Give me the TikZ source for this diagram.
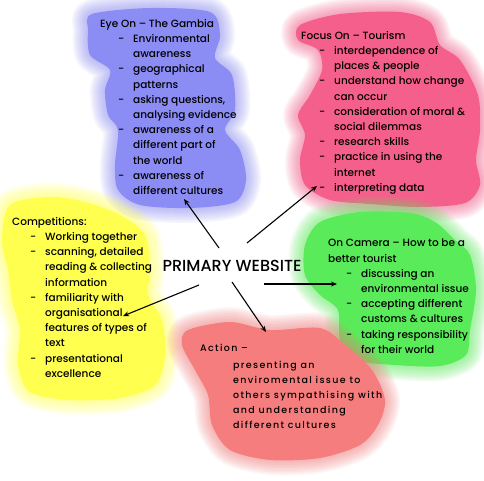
\documentclass[tikz,border=0pt]{standalone}
\usepackage{fontspec}
\setmainfont{Poppins}[UprightFont=* Medium, BoldFont=* SemiBold]
\usepackage{xcolor}
\usetikzlibrary{arrows.meta}

\definecolor{blobblue}{RGB}{140,140,245}
\definecolor{blobpink}{RGB}{245,95,140}
\definecolor{blobgreen}{RGB}{90,235,90}
\definecolor{blobyellow}{RGB}{255,255,80}
\definecolor{blobred}{RGB}{245,125,125}

% soft coloured patch behind each block
\newcommand\blob[2]{%
  \foreach \w in {30,27,...,2}
    \draw[#1, line width=\w pt, opacity=0.07, line join=round] plot[smooth cycle] coordinates {#2};
  \fill[#1] plot[smooth cycle] coordinates {#2};}
\newcommand\dashitem[1]{\hspace*{18pt}\makebox[15pt][l]{-}#1}
\newcommand\cont[1]{\hspace*{33pt}#1}

\begin{document}
\begin{tikzpicture}[x=1pt, y=-1pt,
  blocktext/.style={anchor=north west, inner sep=0pt, align=left, font=\fontsize{10.5}{15.2}\selectfont},
  arr/.style={-{Stealth[length=6pt, width=5pt]}, line width=1.1pt}
]
  \useasboundingbox (0,0) rectangle (484,480);
  \fill[white] (0,0) rectangle (484,480);

  % Patches
  \blob{blobblue}{(92,14) (150,8) (210,12) (220,35) (215,58) (232,75) (235,110) (225,130) (240,150) (246,180) (235,202) (190,208) (140,205) (118,190) (115,165) (118,130) (108,115) (105,90) (110,70) (90,55) (88,30)}
  \blob{blobpink}{(300,25) (340,14) (400,12) (430,22) (440,45) (460,60) (478,95) (480,130) (476,160) (480,185) (465,203) (420,207) (370,204) (330,200) (305,185) (300,160) (305,135) (298,115) (310,95) (322,70) (318,50) (298,40)}
  \blob{blobgreen}{(320,222) (360,212) (410,213) (435,222) (455,240) (470,255) (476,290) (470,330) (466,355) (440,366) (395,365) (355,360) (340,340) (338,310) (320,295) (305,275) (305,245)}
  \blob{blobyellow}{(10,205) (50,197) (85,202) (120,215) (145,235) (150,270) (148,295) (162,320) (165,355) (155,385) (120,398) (70,400) (30,392) (18,365) (20,330) (12,300) (8,270) (2,240)}
  \blob{blobred}{(188,330) (230,322) (270,330) (320,328) (345,345) (372,370) (385,400) (378,425) (360,445) (320,458) (270,460) (230,450) (212,425) (208,395) (195,370) (182,345)}

  % Centre
  \node[font=\fontsize{16}{19}\selectfont, inner sep=0pt] (hub) at (232,266) {PRIMARY WEBSITE};

  % Blocks
  \node[blocktext] (eyeon) at (100,19) {Eye On -- The Gambia\\
    \dashitem{Environmental}\\ \cont{awareness}\\
    \dashitem{geographical}\\ \cont{patterns}\\
    \dashitem{asking questions,}\\ \cont{analysing evidence}\\
    \dashitem{awareness of a}\\ \cont{different part of}\\ \cont{the world}\\
    \dashitem{awareness of}\\ \cont{different cultures}};
  \node[blocktext] (focus) at (301,31) {Focus On -- Tourism\\
    \dashitem{interdependence of}\\ \cont{places \& people}\\
    \dashitem{understand how change}\\ \cont{can occur}\\
    \dashitem{consideration of moral \&}\\ \cont{social dilemmas}\\
    \dashitem{research skills}\\
    \dashitem{practice in using the}\\ \cont{internet}\\
    \dashitem{interpreting data}};
  \node[blocktext] (comp) at (12,217) {Competitions:\\
    \dashitem{Working together}\\
    \dashitem{scanning, detailed}\\ \cont{reading \& collecting}\\ \cont{information}\\
    \dashitem{familiarity with}\\ \cont{organisational}\\ \cont{features of types of}\\ \cont{text}\\
    \dashitem{presentational}\\ \cont{excellence}};
  \node[blocktext] (camera) at (328,239) {On Camera -- How to be a\\ better tourist\\
    \dashitem{discussing an}\\ \cont{environmental issue}\\
    \dashitem{accepting different}\\ \cont{customs \& cultures}\\
    \dashitem{taking responsibility}\\ \cont{for their world}};
  \node[blocktext, font=\fontsize{9.5}{15}\selectfont\addfontfeatures{LetterSpace=14}] (action) at (200,344) {Action --\\[2pt]
    \hspace*{33pt}presenting an\\ \hspace*{33pt}enviromental issue to\\ \hspace*{33pt}others sympathising with\\
    \hspace*{33pt}and understanding\\ \hspace*{33pt}different cultures};

  % Arrow ends
  \coordinate (s1) at (219,248); \coordinate (t1) at (184,199);
  \coordinate (s2) at (247,243); \coordinate (t2) at (317,186);
  \coordinate (s3) at (199,285); \coordinate (t3) at (123,316);
  \coordinate (s4) at (232,282); \coordinate (t4) at (266,332);
  \coordinate (s5) at (264,284); \coordinate (t5) at (337,284);
  \draw[arr] (s1) -- (t1);
  \draw[arr] (s2) -- (t2);
  \draw[arr] (s3) -- (t3);
  \draw[arr] (s4) -- (t4);
  \draw[arr] (s5) -- (t5);
\end{tikzpicture}
\end{document}
